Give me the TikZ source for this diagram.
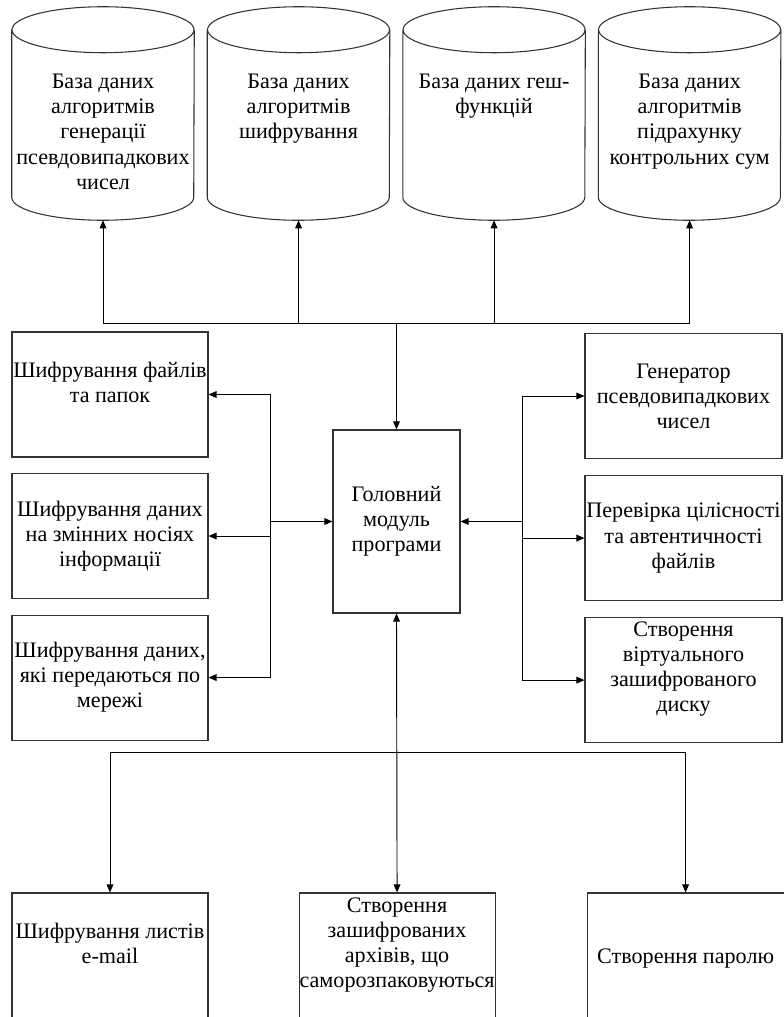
\documentclass[tikz,border=0pt]{standalone}
\usepackage{fontspec}
\setmainfont{Liberation Serif}
\usetikzlibrary{arrows.meta, positioning, calc}

\begin{document}
\begin{tikzpicture}[
    x=0.75pt, y=-0.75pt,
    font=\fontsize{16.6pt}{18.8pt}\selectfont,
    db/.style={rectangle, minimum width=136.5pt, minimum height=159.75pt, inner sep=0pt},
    dbline/.style={draw=black!80, line width=0.8pt},
    box/.style={rectangle, draw=black!80, line width=0.8pt, minimum width=#1,
                minimum height=93.75pt, align=center, inner sep=0pt},
    box/.default=147pt,
    txt/.style={align=center, inner sep=0pt},
    arr/.style={-{Triangle[length=6pt, width=5pt]}, line width=0.7pt},
    both/.style={{Triangle[length=6pt, width=5pt]}-{Triangle[length=6pt, width=5pt]}, line width=0.7pt}
]
\useasboundingbox (0,0) rectangle (783,1017);

% Databases
\node[db] (c1) at (103,113.5) {};
\node[db, right=9.75pt of c1] (c2) {};
\node[db, right=9.75pt of c2] (c3) {};
\node[db, right=9.75pt of c3] (c4) {};
\foreach \c in {c1,c2,c3,c4}
  \draw[dbline] ($(\c.north west)+(0,23)$) -- ($(\c.south west)+(0,-23)$)
      arc[start angle=180, end angle=360, x radius=68.25pt, y radius=17.25pt]
      -- ($(\c.north east)+(0,23)$)
      ($(\c.north)+(0,23)$) ellipse[x radius=68.25pt, y radius=17.25pt];
\node[txt, below=50.5pt of c1.north] (c1t) {База даних\\алгоритмів\\генерації\\псевдовипадкових\\чисел};
\node[txt, below=50.5pt of c2.north] (c2t) {База даних\\алгоритмів\\шифрування};
\node[txt, below=50.5pt of c3.north] (c3t) {База даних геш-\\функцій};
\node[txt, below=50.5pt of c4.north] (c4t) {База даних\\алгоритмів\\підрахунку\\контрольних сум};

% Main module
\node[box=95.25pt, minimum height=137.25pt] (main) at (396.5,521.5) {Головний\\модуль\\програми};

% Left column
\node[box] (l1) at (110,394.5) {};
\node[txt, below=22.5pt of l1.north] (l1t) {Шифрування файлів\\та папок};
\node[box, below=11.6pt of l1] (l2) {Шифрування даних\\на змінних носіях\\інформації};
\node[box, below=11.6pt of l2] (l3) {Шифрування даних,\\які передаються по\\мережі};

% Right column
\node[box=147.75pt] (r1) at (683.5,396) {Генератор\\псевдовипадкових\\чисел};
\node[box=147.75pt, below=12pt of r1] (r2) {Перевірка цілісності\\та автентичності\\файлів};
\node[box=147.75pt, below=12pt of r2] (r3) {};
\node[txt, below=3pt of r3.north] (r3t) {Створення\\віртуального\\зашифрованого\\диску};

% Bottom row
\node[box, minimum height=120pt] (bl) at (110,973) {};
\node[box, minimum height=120pt, right=67.5pt of bl] (bm) {};
\node[box=147.75pt, minimum height=120pt, right=68.25pt of bm] (br) {};
\node[txt, below=23pt of bl.north] (blt) {Шифрування листів\\e-mail};
\node[txt, below=4pt of bm.north] (bmt) {Створення\\зашифрованих\\архівів, що\\саморозпаковуються};
\node[txt, below=42pt of br.north] (brt) {Створення паролю};

% Connectors
\coordinate (tb) at (main.north |- 0,323);
\draw[arr] (tb) -- (main.north);
\draw[arr] (tb) -| (c1.south);
\draw[arr] (tb) -| (c2.south);
\draw[arr] (tb) -| (c3.south);
\draw[arr] (tb) -| (c4.south);

\coordinate (lb) at (270,0 |- main.west);
\draw[arr] (lb) -- (main.west);
\draw[arr] (lb) |- (l1.east);
\draw[arr] (lb) |- (l2.east);
\draw[arr] (lb) |- (l3.east);

\coordinate (rb) at (522,0 |- main.east);
\draw[arr] (rb) -- (main.east);
\draw[arr] (rb) |- (r1.west);
\draw[arr] (rb) |- (r2.west);
\draw[arr] (rb) |- (r3.west);

\coordinate (bb) at (main.south |- 0,752);
\draw[both] (main.south) -- (bm.north);
\draw[arr] (bb) -| (bl.north);
\draw[arr] (bb) -| (br.north);
\end{tikzpicture}
\end{document}
